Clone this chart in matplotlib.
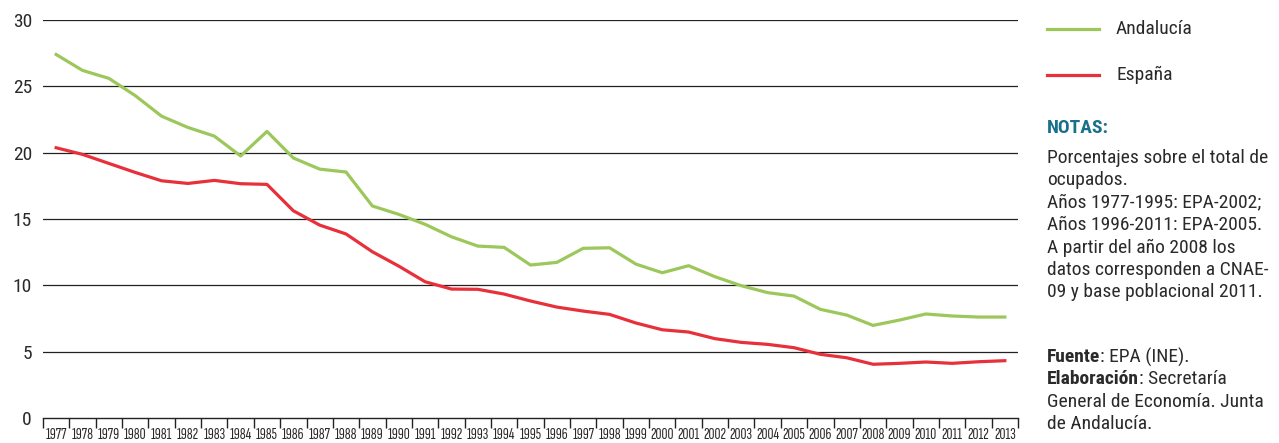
import matplotlib
matplotlib.use('agg')
import matplotlib.pyplot as plt
import numpy as np

years = [str(y) for y in range(1977, 2014)]
andalucia = [27.4, 26.2, 25.6, 24.3, 22.75, 21.9, 21.25, 19.75, 21.6, 19.6,
             18.76, 18.54, 15.98, 15.35, 14.6, 13.66, 12.96, 12.86, 11.53, 11.73,
             12.79, 12.83, 11.6, 10.95, 11.48, 10.65, 9.97, 9.45, 9.19, 8.19,
             7.76, 6.98, 7.38, 7.84, 7.69, 7.61, 7.61]
espana = [20.37, 19.87, 19.19, 18.51, 17.88, 17.68, 17.91, 17.66, 17.61, 15.62,
          14.54, 13.87, 12.53, 11.45, 10.27, 9.72, 9.7, 9.34, 8.82, 8.36,
          8.06, 7.81, 7.16, 6.65, 6.48, 5.98, 5.7, 5.55, 5.3, 4.8,
          4.54, 4.05, 4.12, 4.22, 4.12, 4.24, 4.32]
yticks = [0, 5, 10, 15, 20, 25, 30]

GREEN = '#9cc75b'
RED = '#e7303a'
TEAL = '#17708c'
TXT = '#2a2a2a'

COND = ['Roboto Condensed', 'DejaVu Sans']
XCOND = ['Sofia Sans Extra Condensed', 'Roboto Condensed', 'DejaVu Sans']
plt.rcParams['font.family'] = COND

W, H = 1279, 443
fig = plt.figure(figsize=(W / 100, H / 100), dpi=100)
ax = fig.add_axes([43 / W, 1 - 418 / H, (1018 - 43) / W, (418 - 20) / H])

x = np.arange(len(years))
ax.plot(x, andalucia, color=GREEN, lw=2.3)
ax.plot(x, espana, color=RED, lw=2.3)

ax.set_xlim(-0.5, len(years) - 0.5)
ax.set_ylim(0, 30)
for v in yticks[1:]:
    ax.axhline(v, color='#222222', lw=0.9, zorder=0)

for s in ['top', 'right', 'left']:
    ax.spines[s].set_visible(False)
ax.spines['bottom'].set_color('#222222')
ax.spines['bottom'].set_linewidth(1.0)

ax.set_yticks(yticks)
ax.set_yticklabels([str(v) for v in yticks], fontsize=14, color=TXT)
ax.tick_params(axis='y', length=0, pad=8)

ax.set_xticks(x)
ax.set_xticklabels(years, fontsize=12, color=TXT, family=XCOND)
ax.tick_params(axis='x', which='major', length=0, pad=7)
ax.set_xticks(np.arange(-0.5, len(years)), minor=True)
ax.tick_params(axis='x', which='minor', length=7, width=1, color='#222222', direction='out')


def fx(px):
    return px / W


def fy(py):
    return 1 - py / H


# legend
for py, col, name in [(29, GREEN, 'Andalucía'), (75, RED, 'España')]:
    fig.add_artist(plt.Line2D([fx(1047), fx(1099)], [fy(py), fy(py)], color=col, lw=2.3))
    fig.text(fx(1116), fy(py), name, fontsize=14, color=TXT, va='center')

FS = 14
LH = 22.4
fig.text(fx(1047), fy(128), 'NOTAS:', fontsize=FS, color=TEAL, fontweight='bold', va='center')
notes = ['Porcentajes sobre el total de',
         'ocupados.',
         'Años 1977-1995: EPA-2002;',
         'Años 1996-2011: EPA-2005.',
         'A partir del año 2008 los',
         'datos corresponden a CNAE-',
         '09 y base poblacional 2011.']
for i, t in enumerate(notes):
    fig.text(fx(1047), fy(158 + i * LH), t, fontsize=FS, color=TXT, va='center')

t1 = fig.text(fx(1047), fy(357), 'Fuente', fontsize=FS, color=TXT, fontweight='bold', va='center')
t2 = fig.text(fx(1047), fy(379), 'Elaboración', fontsize=FS, color=TXT, fontweight='bold', va='center')
fig.canvas.draw()
r = fig.canvas.get_renderer()
w1 = t1.get_window_extent(r).x1
w2 = t2.get_window_extent(r).x1
fig.text(w1 / W, fy(357), ': EPA (INE).', fontsize=FS, color=TXT, va='center')
fig.text(w2 / W, fy(379), ': Secretaría', fontsize=FS, color=TXT, va='center')
fig.text(fx(1047), fy(402), 'General de Economía. Junta', fontsize=FS, color=TXT, va='center')
fig.text(fx(1047), fy(424), 'de Andalucía.', fontsize=FS, color=TXT, va='center')

fig.savefig('out.png', dpi=100)
